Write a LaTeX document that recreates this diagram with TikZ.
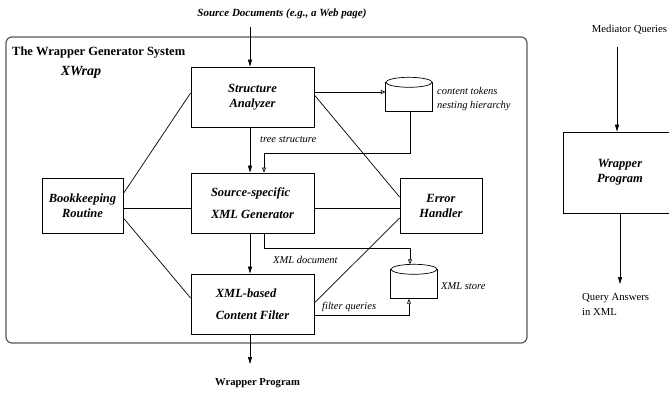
\documentclass[tikz,border=0pt]{standalone}
\usepackage{fontspec}
\setmainfont{Liberation Serif}
\usetikzlibrary{arrows.meta}

\begin{document}
\begin{tikzpicture}[x=1pt,y=-1pt,
    box/.style={draw,line width=0.8pt,inner sep=0pt,align=center,
        font=\fontsize{12.5}{15}\selectfont\bfseries\itshape},
    lbl/.style={anchor=west,inner sep=0pt,font=\fontsize{10.5}{14}\selectfont\itshape},
    db/.style={minimum width=46pt,minimum height=29pt,inner sep=0pt},
    arr/.style={-{Triangle[length=7pt,width=4pt]},line width=0.7pt},
    oarr/.style={-{Triangle[open,length=5pt,width=4pt]},line width=0.7pt},
    link/.style={line width=0.7pt}]
    \useasboundingbox (0,0) rectangle (669,393);
    % the system frame
    \draw[line width=1.2pt,black!65,rounded corners=6pt] (6,37) rectangle (527,343);
    \node[anchor=west,inner sep=0pt,font=\fontsize{12.5}{15}\selectfont\bfseries] (sys) at (12,53) {The Wrapper Generator System};
    \node[inner sep=0pt,font=\fontsize{14}{16}\selectfont\bfseries\itshape] (xw) at (81,72) {XWrap};

    % components
    \node[box,minimum width=123pt,minimum height=60pt] (sa) at (252.5,97) {Structure\\Analyzer};
    \node[box,minimum width=123pt,minimum height=60pt,align=left,
        font=\fontsize{12.5}{21.5}\selectfont\bfseries\itshape] (gen) at (252.5,203) {Source-specific\\XML Generator};
    \node[box,minimum width=123pt,minimum height=60pt,align=left,
        font=\fontsize{12.5}{22}\selectfont\bfseries\itshape] (filt) at (252.5,304) {XML-based\\Content Filter};
    \node[box,minimum width=81pt,minimum height=55pt] (book) at (82.5,205.5) {Bookkeeping\\Routine};
    \node[box,minimum width=82pt,minimum height=55pt] (err) at (441,205.5) {Error\\Handler};

    % data stores
    \node[db] (db1) at (409,97) {};
    \draw[link] (db1.north west) -- (db1.south west) -- (db1.south east) -- (db1.north east);
    \draw[link] (db1.north) ellipse (23pt and 5pt);
    \node[db] (db2) at (414,284) {};
    \draw[link] (db2.north west) -- (db2.south west) -- (db2.south east) -- (db2.north east);
    \draw[link] (db2.north) ellipse (23pt and 5pt);
    \node[lbl,align=left] (tok) at (437,99) {content tokens\\nesting hierarchy};
    \node[lbl] (store) at (441,286) {XML store};

    % input and output
    \node[inner sep=0pt,font=\fontsize{11}{13}\selectfont\bfseries\itshape] (src) at (282,14) {Source Documents (e.g., a Web page)};
    \coordinate (srcin) at (250,27);
    \draw[arr] (srcin) -- ([xshift=-2.5pt]sa.north);
    \node[inner sep=0pt,font=\fontsize{10.6}{13}\selectfont\bfseries] (wp) at (257.5,383) {Wrapper Program};
    \coordinate (wpin) at (250,364);
    \draw[arr] ([xshift=-2.5pt]filt.south) -- (wpin);

    % data flow
    \draw[arr] ([xshift=-2.5pt]sa.south) -- ([xshift=-2.5pt]gen.north);
    \node[lbl] (tree) at (260,140) {tree structure};
    \draw[arr] ([xshift=-2.5pt]gen.south) -- ([xshift=-2.5pt]filt.north);
    \draw[oarr] ([yshift=5pt]sa.east) -- ([yshift=5pt]sa.east -| db1.west);
    \draw[oarr] ([xshift=1pt]db1.south) -- ++(0,42) -| ([xshift=11.5pt]gen.north);
    \draw[oarr] ([xshift=11.5pt]gen.south) -- ++(0,15) -| ([xshift=-4pt,yshift=5pt]db2.north);
    \node[lbl] (xdoc) at (273,260) {XML document};
    \draw[oarr] ([yshift=-11pt]filt.east) -| ([xshift=-5pt]db2.south);
    \node[lbl] (fq) at (322,307) {filter queries};

    % links to bookkeeping and error handling
    \draw[link] ([yshift=4pt]sa.west) -- ([yshift=12pt]book.east);
    \draw[link] ([yshift=-5pt]gen.west) -- ([yshift=-5pt]gen.west -| book.east);
    \draw[link] ([yshift=-12.5pt]book.east) -- ([yshift=6pt]filt.west);
    \draw[link] ([yshift=2pt]sa.east) -- ([yshift=8.5pt]err.west);
    \draw[link] ([yshift=-5pt]gen.east) -- ([yshift=-5pt]gen.east -| err.west);
    \draw[link] ([yshift=1pt]filt.east) -- ([yshift=-12.5pt]err.west);

    % the wrapper in use
    \node[inner sep=0pt,font=\fontsize{10.7}{13}\selectfont] (mq) at (629.5,30) {Mediator Queries};
    \node[box,minimum width=114pt,minimum height=81pt] (wrap) at (620,172.5) {Wrapper\\Program};
    \coordinate (mqin) at (617,47);
    \draw[arr] (mqin) -- (wrap.north -| mqin);
    \coordinate (qaout) at (620,284);
    \draw[arr] (wrap.south) -- (qaout);
    \node[anchor=west,inner sep=0pt,align=left,font=\fontsize{10.7}{15}\selectfont] (qa) at (582,304.5) {Query Answers\\in XML};
\end{tikzpicture}
\end{document}
